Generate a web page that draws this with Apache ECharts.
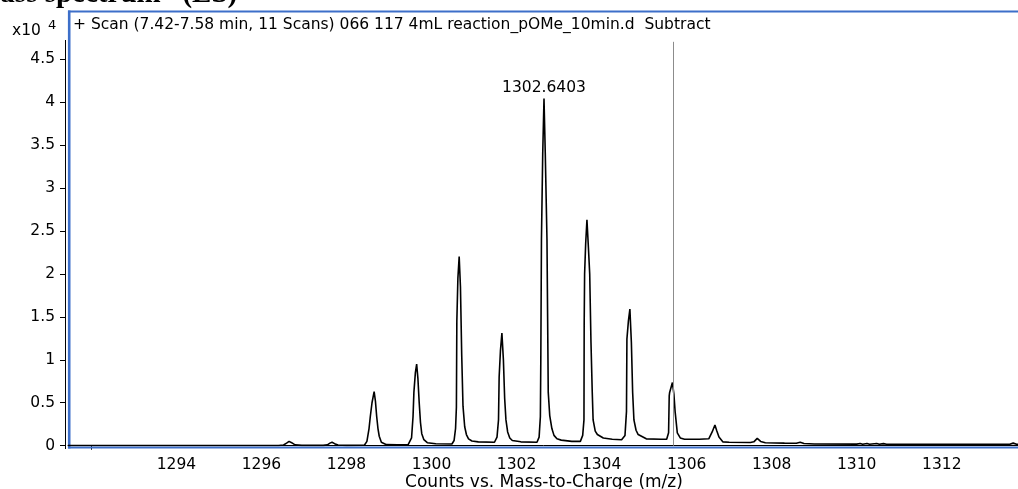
<!DOCTYPE html>
<html>
<head>
<meta charset="utf-8">
<script src="https://cdn.jsdelivr.net/npm/echarts@6/dist/echarts.min.js"></script>
<style>
html,body{margin:0;padding:0;background:#fff;}
#chart{width:1018px;height:489px;}
</style>
</head>
<body>
<div id="chart"></div>
<script>
// m/z values of the profile spectrum
const mz = [
  1291.45, 1296.40, 1296.52, 1296.59, 1296.65, 1296.71, 1296.79, 1296.95, 1297.45, 1297.55, 1297.61, 1297.66, 1297.72, 1297.80, 1298.00, 1298.42,
  1298.48, 1298.53, 1298.56, 1298.60, 1298.65, 1298.68, 1298.71, 1298.74, 1298.77, 1298.82, 1298.94, 1299.20, 1299.45,
  1299.49, 1299.53, 1299.565, 1299.585, 1299.62, 1299.65, 1299.68, 1299.71, 1299.74, 1299.77, 1299.82, 1299.90, 1300.10, 1300.48,
  1300.53, 1300.565, 1300.585, 1300.595, 1300.62, 1300.65, 1300.68, 1300.71, 1300.74, 1300.78, 1300.82, 1300.87, 1300.95, 1301.10, 1301.48,
  1301.54, 1301.575, 1301.59, 1301.62, 1301.655, 1301.69, 1301.72, 1301.75, 1301.79, 1301.84, 1301.90, 1302.10, 1302.48,
  1302.53, 1302.56, 1302.57, 1302.585, 1302.615, 1302.645, 1302.675, 1302.715, 1302.73, 1302.745, 1302.78, 1302.83, 1302.88, 1302.95, 1303.05, 1303.30, 1303.50,
  1303.555, 1303.585, 1303.59, 1303.60, 1303.625, 1303.655, 1303.69, 1303.72, 1303.75, 1303.78, 1303.80, 1303.85, 1303.90, 1304.04, 1304.25, 1304.47,
  1304.55, 1304.585, 1304.595, 1304.63, 1304.665, 1304.70, 1304.73, 1304.76, 1304.81, 1304.86, 1305.05, 1305.40, 1305.53,
  1305.575, 1305.59, 1305.60, 1305.665, 1305.70, 1305.73, 1305.78, 1305.85, 1305.95, 1306.30, 1306.52,
  1306.60, 1306.665, 1306.71, 1306.76, 1306.85, 1307.00, 1307.50,
  1307.58, 1307.66, 1307.74, 1307.85, 1308.30,
  1308.58, 1308.67, 1308.76, 1309.00, 1310.00, 1310.08, 1310.14, 1310.24, 1310.30, 1310.47, 1310.53, 1310.63, 1310.70,
  1311.14, 1311.18, 1311.22, 1311.63, 1311.67, 1311.71, 1312.63, 1312.67, 1312.71, 1313.60, 1313.68, 1313.76, 1313.84
];
// counts in units of 10^4
const counts = [
  0.003, 0.003, 0.008, 0.03, 0.05, 0.035, 0.01, 0.004, 0.004, 0.01, 0.03, 0.04, 0.024, 0.008, 0.004, 0.005,
  0.05, 0.2, 0.34, 0.5, 0.63, 0.52, 0.34, 0.2, 0.11, 0.04, 0.012, 0.01, 0.012,
  0.02, 0.09, 0.34, 0.62, 0.85, 0.95, 0.78, 0.5, 0.27, 0.14, 0.07, 0.035, 0.022, 0.02,
  0.06, 0.2, 0.45, 1.45, 1.95, 2.2, 1.85, 1.05, 0.46, 0.22, 0.13, 0.08, 0.055, 0.045, 0.04,
  0.1, 0.3, 0.8, 1.1, 1.31, 1.0, 0.55, 0.3, 0.16, 0.09, 0.06, 0.045, 0.04,
  0.1, 0.34, 1.0, 2.4, 3.4, 4.04, 3.4, 2.4, 1.5, 0.62, 0.35, 0.2, 0.12, 0.08, 0.065, 0.05, 0.05,
  0.12, 0.3, 1.4, 2.0, 2.35, 2.63, 2.3, 2.0, 1.2, 0.62, 0.3, 0.17, 0.13, 0.09, 0.075, 0.07,
  0.12, 0.4, 1.24, 1.45, 1.59, 1.2, 0.62, 0.3, 0.18, 0.13, 0.08, 0.075, 0.075,
  0.15, 0.58, 0.62, 0.735, 0.6, 0.39, 0.15, 0.09, 0.075, 0.075, 0.08,
  0.16, 0.24, 0.17, 0.1, 0.045, 0.04, 0.037,
  0.045, 0.085, 0.05, 0.035, 0.03,
  0.028, 0.04, 0.025, 0.02, 0.018, 0.025, 0.017, 0.026, 0.017, 0.026, 0.017, 0.024, 0.016,
  0.016, 0.027, 0.016, 0.016, 0.026, 0.016, 0.016, 0.026, 0.016, 0.016, 0.03, 0.016, 0.016
];
const yTicks = [0, 0.5, 1, 1.5, 2, 2.5, 3, 3.5, 4, 4.5];
const xTicks = [1292];
const xLabels = [1294, 1296, 1298, 1300, 1302, 1304, 1306, 1308, 1310, 1312];
const peakLabel = '1302.6403';
const peakMz = 1302.645;
const peakCount = 4.04;
const cursorMz = 1305.68;
const cursorTop = 4.70;
const titleText = '+ Scan (7.42-7.58 min, 11 Scans) 066 117 4mL reaction_pOMe_10min.d  Subtract';
const xAxisName = 'Counts vs. Mass-to-Charge (m/z)';
const headerText = 'Mass spectrum   (ES)';

const FONT = '"DejaVu Sans", sans-serif';
const BLUE = '#3d6fc9';
const data = mz.map((m, i) => [m, counts[i]]);

const chart = echarts.init(document.getElementById('chart'), null, {renderer: 'canvas'});
chart.setOption({
  animation: false,
  backgroundColor: '#fff',
  grid: {left: 68, right: -2, top: 12, bottom: 43.3, show: false, containLabel: false, outerBoundsMode: 'none'},
  xAxis: {
    type: 'value', min: 1291.45, max: 1313.84, position: 'bottom', offset: 4,
    axisLine: {show: true, lineStyle: {color: '#000', width: 1}},
    axisTick: {show: true, length: 4, lineStyle: {color: '#000'}, customValues: xTicks},
    axisLabel: {customValues: xLabels, margin: 7, color: '#000', fontSize: 15.5, fontFamily: FONT, formatter: v => String(v)},
    splitLine: {show: false},
    name: xAxisName, nameLocation: 'middle', nameGap: 24, nameMoveOverlap: false,
    nameTextStyle: {color: '#000', fontSize: 17, fontFamily: FONT}
  },
  yAxis: {
    type: 'value', min: 0, max: 5.047, position: 'left', offset: 3,
    axisLine: {show: false},
    axisTick: {show: true, length: 5, lineStyle: {color: '#000'}, customValues: yTicks},
    axisLabel: {customValues: yTicks, margin: 10, color: '#000', fontSize: 15.5, fontFamily: FONT, formatter: v => String(v)},
    splitLine: {show: false}
  },
  graphic: [
    {type: 'line', z: 1, shape: {x1: 65.5, y1: 40, x2: 65.5, y2: 449}, style: {stroke: '#000', lineWidth: 1}},
    {type: 'line', z: 1, shape: {x1: 69.2, y1: 10.5, x2: 69.2, y2: 448.5}, style: {stroke: BLUE, lineWidth: 2.6}},
    {type: 'line', z: 1, shape: {x1: 68, y1: 11.5, x2: 1020, y2: 11.5}, style: {stroke: BLUE, lineWidth: 2.2}},
    {type: 'line', z: 1, shape: {x1: 68, y1: 447.5, x2: 1020, y2: 447.5}, style: {stroke: BLUE, lineWidth: 2.2}},
    {type: 'text', z: 5, style: {text: titleText, x: 73, y: 25, textVerticalAlign: 'middle', fill: '#000', font: '15.5px ' + FONT}},
    {type: 'text', z: 5, style: {text: 'x10', x: 12, y: 31, textVerticalAlign: 'middle', fill: '#000', font: '15.5px ' + FONT}},
    {type: 'text', z: 5, style: {text: '4', x: 48, y: 25.5, textVerticalAlign: 'middle', fill: '#000', font: '13px ' + FONT}},
    {type: 'text', z: 5, style: {text: headerText, x: -27, y: -5, textVerticalAlign: 'middle', fill: '#000', font: 'bold 29px "Liberation Serif", serif'}}
  ],
  series: [{
    type: 'line',
    data: data,
    showSymbol: false,
    symbol: 'none',
    clip: true,
    z: 3,
    lineStyle: {color: '#000', width: 1.6},
    markLine: {
      silent: true, symbol: ['none', 'none'], animation: false,
      lineStyle: {color: '#8c8c8c', width: 1, type: 'solid'},
      label: {show: false},
      data: [[{coord: [cursorMz, 0]}, {coord: [cursorMz, cursorTop]}]]
    },
    markPoint: {
      silent: true, symbol: 'circle', symbolSize: 1, animation: false,
      itemStyle: {color: 'rgba(0,0,0,0)'},
      label: {show: true, position: 'top', distance: 2, formatter: peakLabel, color: '#000', fontSize: 15.5, fontFamily: FONT},
      data: [{coord: [peakMz, peakCount]}]
    }
  }]
});
</script>
</body>
</html>
